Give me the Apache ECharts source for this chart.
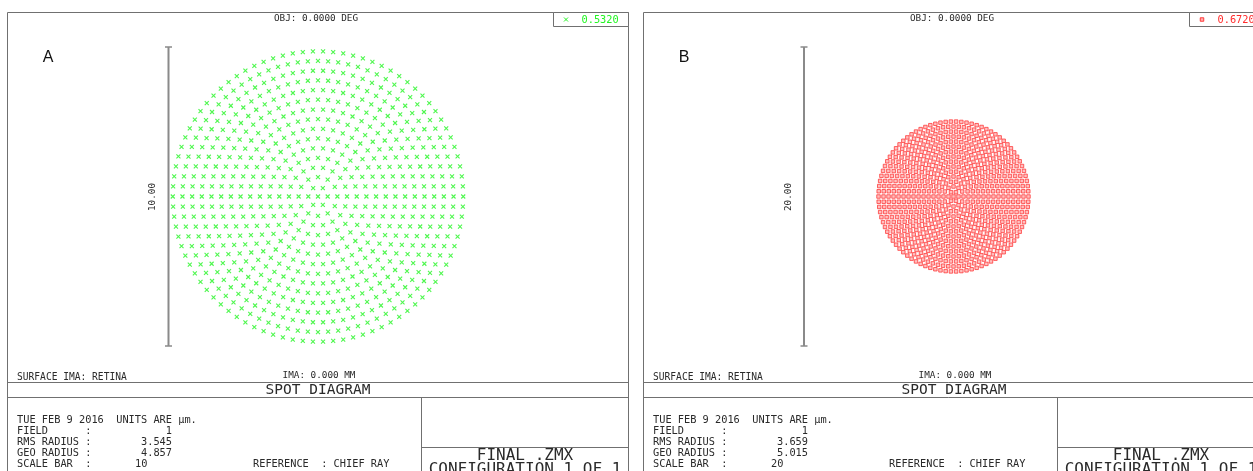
<!DOCTYPE html>
<html>
<head>
<meta charset="utf-8">
<script src="https://cdn.jsdelivr.net/npm/echarts@6/dist/echarts.min.js"></script>
<style>
  html, body { margin: 0; padding: 0; background: #ffffff; }
  #chart { width: 1253px; height: 471px; }
</style>
</head>
<body>
<div id="chart"></div>
<script>
// Hexapolar spot pattern: ring radii in micrometres and rays per ring
const ringCounts = [1, 6, 12, 18, 24, 30, 36, 42, 48, 54, 60, 66, 72, 78, 84, 90];
const ringRadiiA = [0, 0.324, 0.648, 0.971, 1.295, 1.619, 1.943, 2.267, 2.590, 2.914, 3.238, 3.562, 3.886, 4.209, 4.533, 4.857];
const ringRadiiB = [0, 0.334, 0.669, 1.003, 1.337, 1.672, 2.006, 2.340, 2.675, 3.009, 3.343, 3.677, 4.012, 4.346, 4.681, 5.015];

// Wavelengths (µm) shown in each legend box
const wavelengthA = '0.5320';
const wavelengthB = '0.6720';

// Scale bars (µm)
const scaleBarA = 10;
const scaleBarB = 20;

// Report values
const panelLetters = ['A', 'B'];
const fieldNo = ['1', '1'];
const rmsRadius = ['3.545', '3.659'];
const geoRadius = ['4.857', '5.015'];
const scaleBarText = ['10', '20'];

const GREEN = '#22f522';
const RED = '#ff2b2b';
const FRAME = '#707070';
const INK = '#2a2a2a';
const MONO = '"DejaVu Sans Mono", "Liberation Mono", monospace';

function ringPoints(radii, counts) {
  const pts = [];
  radii.forEach((r, k) => {
    const n = counts[k];
    for (let j = 0; j < n; j++) {
      const a = 2 * Math.PI * j / n;
      pts.push([r * Math.cos(a), r * Math.sin(a)]);
    }
  });
  return pts;
}

function txt(x, y, text, size, opts) {
  opts = opts || {};
  return {
    type: 'text', x: x, y: y, rotation: opts.rotation || 0, silent: true,
    style: {
      text: text, fill: opts.color || INK, font: (opts.weight || 'normal') + ' ' + size + 'px ' + (opts.family || MONO),
      textAlign: opts.align || 'left', textVerticalAlign: 'middle'
    }
  };
}
function seg(x1, y1, x2, y2, color, w) {
  return { type: 'line', silent: true, shape: { x1: x1, y1: y1, x2: x2, y2: y2 }, style: { stroke: color || FRAME, lineWidth: w || 1 } };
}

function panelFrame(i, ox, wl, color, icon, barLen) {
  const els = [];
  els.push({ type: 'rect', silent: true, shape: { x: ox + 7.5, y: 12.5, width: 621, height: 480 }, style: { fill: 'none', stroke: FRAME, lineWidth: 1 } });
  els.push(seg(ox + 7.5, 382.5, ox + 628.5, 382.5));
  els.push(seg(ox + 7.5, 397.5, ox + 628.5, 397.5));
  els.push(seg(ox + 421.5, 397.5, ox + 421.5, 480));
  els.push(seg(ox + 421.5, 447.5, ox + 628.5, 447.5));
  // legend box
  els.push({ type: 'rect', silent: true, shape: { x: ox + 553.5, y: 12.5, width: 75, height: 14 }, style: { fill: '#fff', stroke: FRAME, lineWidth: 1 } });
  icon(ox + 566, 19.5).forEach(e => els.push(e));
  els.push(txt(ox + 581.5, 20, wl, 10.3, { color: color }));
  // headings
  els.push(txt(ox + 316, 19, 'OBJ: 0.0000 DEG', 9.3, { align: 'center' }));
  els.push(txt(ox + 319, 375.5, 'IMA: 0.000 MM', 9.3, { align: 'center' }));
  els.push(txt(ox + 17, 377.5, 'SURFACE IMA: RETINA', 9.6));
  els.push(txt(ox + 318, 390, 'SPOT DIAGRAM', 14.5, { align: 'center' }));
  // panel letter
  els.push(txt(ox + 48, 58, panelLetters[i], 16, { align: 'center', family: '"Liberation Sans", "Open Sans", sans-serif', color: '#111' }));
  // scale bar label
  els.push(txt(ox + 153, 197, barLen.toFixed(2), 9.3, { align: 'center', rotation: Math.PI / 2 }));
  // report block
  const rows = [420, 431, 442, 453, 464];
  els.push(txt(ox + 17, rows[0], 'TUE FEB 9 2016  UNITS ARE \u00b5m.', 10.3));
  els.push(txt(ox + 17, rows[1], 'FIELD      :', 10.3));
  els.push(txt(ox + 17, rows[2], 'RMS RADIUS :', 10.3));
  els.push(txt(ox + 17, rows[3], 'GEO RADIUS :', 10.3));
  els.push(txt(ox + 17, rows[4], 'SCALE BAR  :', 10.3));
  els.push(txt(ox + 172, rows[1], fieldNo[i], 10.3, { align: 'right' }));
  els.push(txt(ox + 172, rows[2], rmsRadius[i], 10.3, { align: 'right' }));
  els.push(txt(ox + 172, rows[3], geoRadius[i], 10.3, { align: 'right' }));
  els.push(txt(ox + 135, rows[4], scaleBarText[i], 10.3));
  els.push(txt(ox + 253, rows[4], 'REFERENCE  : CHIEF RAY', 10.3));
  els.push(txt(ox + 525, 456, 'FINAL .ZMX', 16, { align: 'center' }));
  els.push(txt(ox + 525, 470, 'CONFIGURATION 1 OF 1', 16, { align: 'center' }));
  return els;
}

const crossIcon = (x, y) => [seg(x - 2, y - 2, x + 2, y + 2, GREEN, 1), seg(x + 2, y - 2, x - 2, y + 2, GREEN, 1)];
const squareIcon = (x, y) => [{ type: 'rect', silent: true, shape: { x: x - 1.75, y: y - 1.75, width: 3.5, height: 3.5 }, style: { fill: 'rgba(255,110,110,0.55)', stroke: RED, lineWidth: 0.9 } }];

const halfA = scaleBarA / 2;
const halfB = scaleBarB / 2;

const grids = [
  { left: 168.5, top: 47, width: 299, height: 299 },
  { left: 804, top: 47, width: 299, height: 299 }
];
const axisBase = { type: 'value', show: false, splitLine: { show: false } };

const chart = echarts.init(document.getElementById('chart'), null, { renderer: 'canvas' });
chart.setOption({
  animation: false,
  backgroundColor: '#ffffff',
  grid: grids,
  xAxis: [
    Object.assign({ gridIndex: 0, min: -halfA, max: halfA }, axisBase),
    Object.assign({ gridIndex: 1, min: -halfB, max: halfB }, axisBase)
  ],
  yAxis: [
    Object.assign({ gridIndex: 0, min: -halfA, max: halfA }, axisBase),
    Object.assign({ gridIndex: 1, min: -halfB, max: halfB }, axisBase)
  ],
  series: [
    {
      name: wavelengthA, type: 'scatter', xAxisIndex: 0, yAxisIndex: 0,
      data: ringPoints(ringRadiiA, ringCounts),
      symbol: 'path://M0,0L10,10M10,0L0,10', symbolSize: 4,
      itemStyle: { color: 'rgba(0,0,0,0)', borderColor: GREEN, borderWidth: 1.1 },
      silent: true
    },
    {
      name: wavelengthB, type: 'scatter', xAxisIndex: 1, yAxisIndex: 1,
      data: ringPoints(ringRadiiB, ringCounts),
      symbol: 'rect', symbolSize: 3.5,
      itemStyle: { color: 'rgba(255,110,110,0.55)', borderColor: RED, borderWidth: 0.9 },
      silent: true
    },
    {
      name: 'scaleA', type: 'line', xAxisIndex: 0, yAxisIndex: 0, clip: false,
      data: [[-halfA, -halfA], [-halfA, halfA]],
      symbol: 'rect', symbolSize: [7, 1.5], showSymbol: true,
      lineStyle: { color: '#8a8a8a', width: 2 }, itemStyle: { color: '#8a8a8a' }, silent: true
    },
    {
      name: 'scaleB', type: 'line', xAxisIndex: 1, yAxisIndex: 1, clip: false,
      data: [[-halfB, -halfB], [-halfB, halfB]],
      symbol: 'rect', symbolSize: [7, 1.5], showSymbol: true,
      lineStyle: { color: '#8a8a8a', width: 2 }, itemStyle: { color: '#8a8a8a' }, silent: true
    }
  ],
  graphic: { elements: [].concat(
    panelFrame(0, 0, wavelengthA, GREEN, crossIcon, scaleBarA),
    panelFrame(1, 636, wavelengthB, RED, squareIcon, scaleBarB)
  ) }
});
</script>
</body>
</html>
